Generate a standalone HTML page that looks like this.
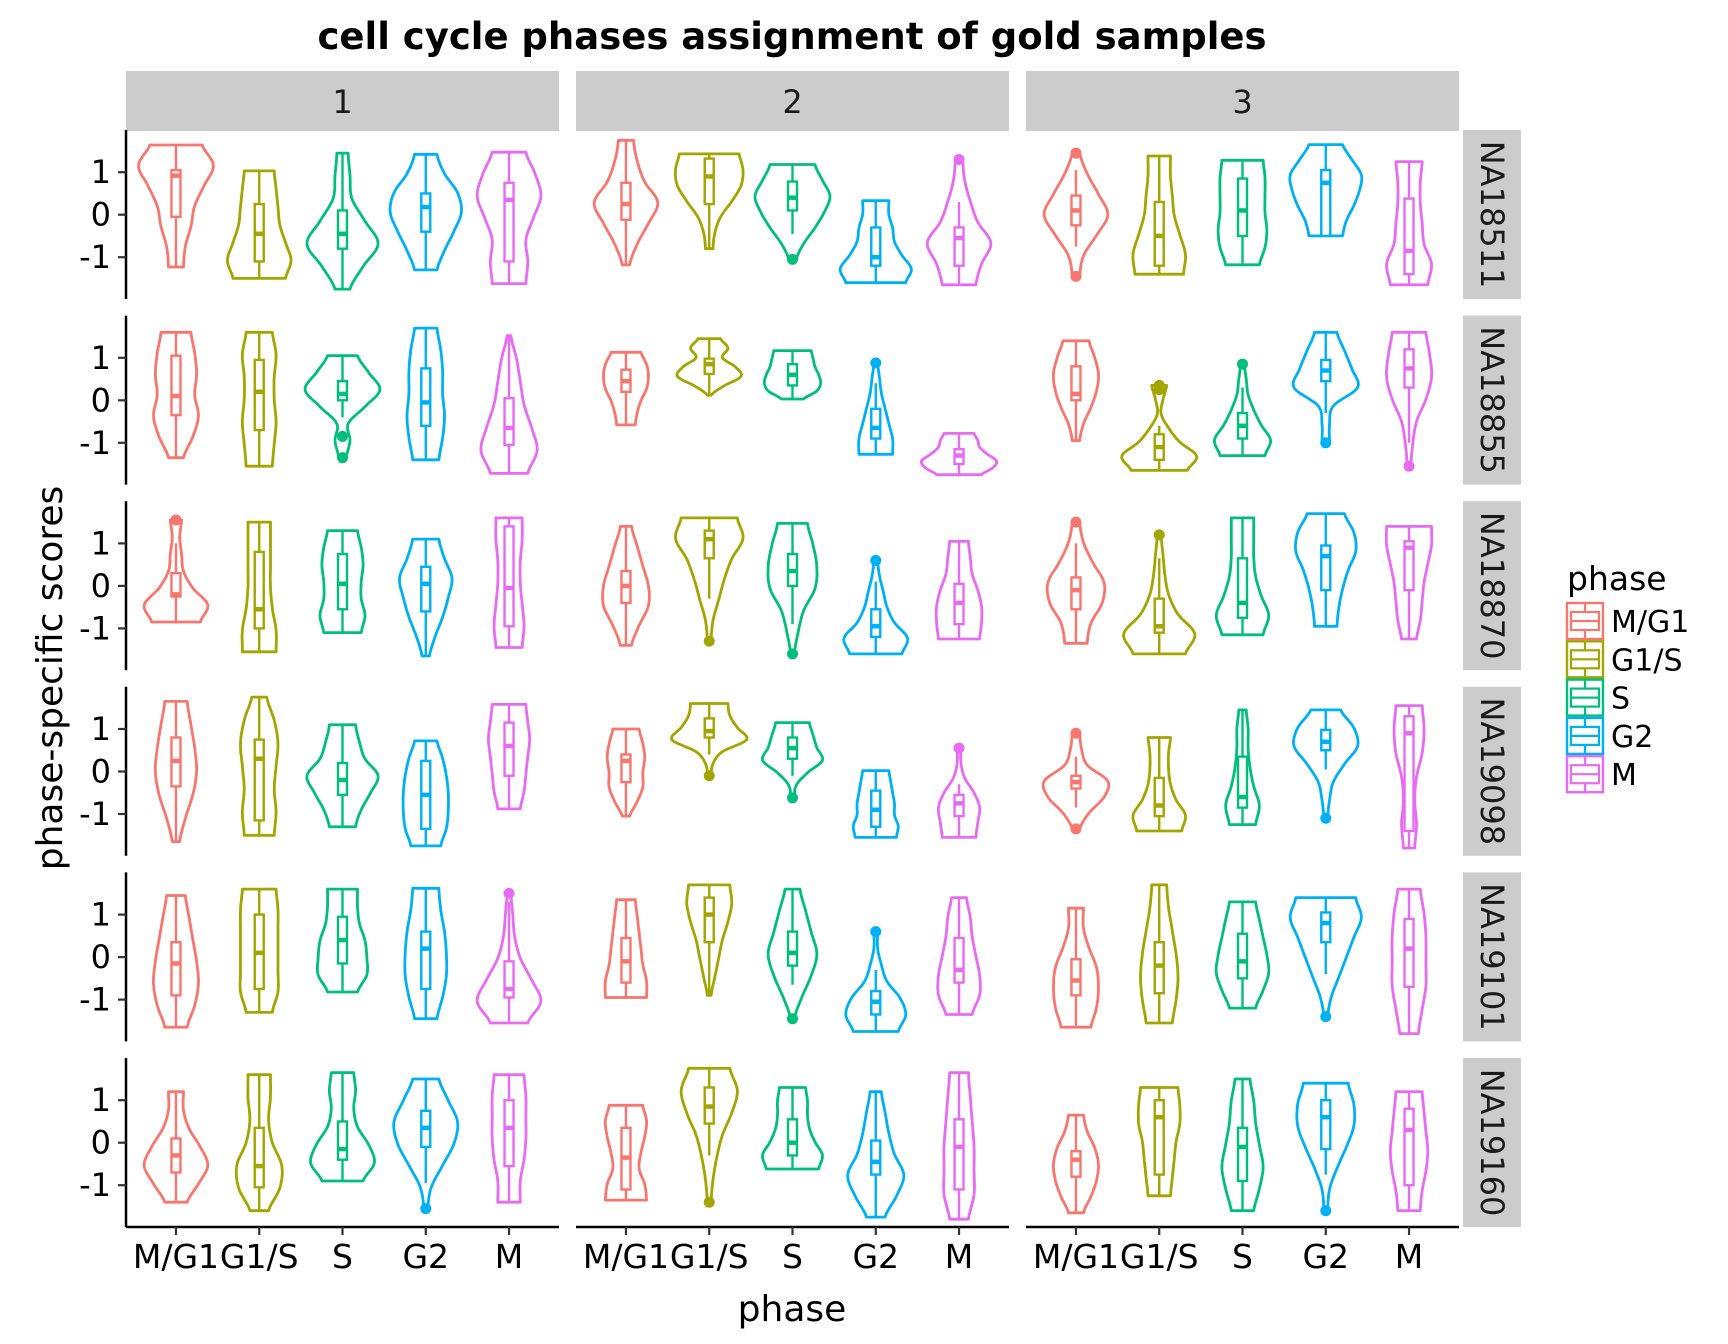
<!DOCTYPE html>
<html><head><meta charset="utf-8"><title>cell cycle phases assignment of gold samples</title>
<style>html,body{margin:0;padding:0;background:#fff;}svg{display:block;font-family:"DejaVu Sans","Liberation Sans",sans-serif;}</style>
</head><body>
<svg id="chart" width="1728" height="1344" viewBox="0 0 1728 1344" xmlns="http://www.w3.org/2000/svg">
<text x="792" y="49" text-anchor="middle" font-size="37" font-weight="bold">cell cycle phases assignment of gold samples</text>
<text x="792" y="1321" text-anchor="middle" font-size="36">phase</text>
<text transform="translate(62,678) rotate(-90)" text-anchor="middle" font-size="36">phase-specific scores</text>
<g id="panels"></g>
<g id="legend"></g>
</svg>
<script>
const phases = ["M/G1","G1/S","S","G2","M"];
const colors = ["#F8766D","#A3A500","#00BF7D","#00B0F6","#E76BF3"];
const columnsLabels = ["1","2","3"];
const samples = ["NA18511","NA18855","NA18870","NA19098","NA19101","NA19160"];
const yTicks = [1,0,-1];
const yTickLabels = ["1","0","-1"];
// each violin: [lo, hi, q1, median, q3, whiskerLo, whiskerHi, densityProfile(bottom->top), outliers]
const rowNA18511 = [
 [[-1.23,1.64,-0.05,0.92,1.05,-1.23,1.64,[0.2,0.25,0.4,0.5,0.75,1.0,0.7],[]],
  [-1.5,1.03,-1.1,-0.45,0.25,-1.5,1.03,[0.7,0.85,0.7,0.55,0.5,0.45,0.4],[]],
  [-1.75,1.45,-0.8,-0.45,0.1,-1.75,1.45,[0.2,0.55,0.95,0.6,0.25,0.2,0.15],[]],
  [-1.3,1.42,-0.4,0.18,0.5,-1.3,1.42,[0.3,0.5,0.75,0.95,0.85,0.5,0.3],[]],
  [-1.62,1.47,-1.1,0.35,0.75,-1.62,1.47,[0.45,0.5,0.45,0.65,0.85,0.7,0.45],[]]],
 [[-1.18,1.75,-0.12,0.25,0.75,-1.18,1.75,[0.1,0.3,0.6,0.85,0.5,0.3,0.2],[]],
  [-0.8,1.43,0.25,0.9,1.32,-0.8,1.43,[0.1,0.15,0.3,0.6,0.85,0.9,0.8],[]],
  [-1.05,1.18,0.1,0.4,0.78,-0.45,1.18,[0.1,0.3,0.6,0.85,1.0,0.8,0.6],[-1.05]],
  [-1.6,0.33,-1.2,-1.0,-0.3,-1.6,0.33,[0.8,0.95,0.7,0.5,0.45,0.35,0.35],[]],
  [-1.65,1.3,-1.2,-0.55,-0.3,-1.65,0.3,[0.45,0.6,0.85,0.5,0.3,0.15,0.1],[1.3]]],
 [[-1.45,1.45,-0.25,0.1,0.45,-0.75,1.05,[0.1,0.2,0.55,0.85,0.6,0.3,0.1],[-1.45,1.45]],
  [-1.4,1.38,-1.2,-0.5,0.3,-1.4,1.38,[0.65,0.7,0.55,0.4,0.35,0.3,0.3],[]],
  [-1.18,1.28,-0.5,0.1,0.85,-1.18,1.28,[0.45,0.6,0.65,0.6,0.6,0.6,0.55],[]],
  [-0.5,1.65,-0.5,0.75,1.05,-0.5,1.65,[0.45,0.55,0.75,0.9,0.95,0.7,0.45],[]],
  [-1.65,1.25,-1.4,-0.85,0.38,-1.65,1.25,[0.5,0.6,0.4,0.35,0.3,0.3,0.35],[]]]];
const rowNA18855 = [
 [[-1.35,1.6,-0.35,0.1,1.05,-1.35,1.6,[0.2,0.45,0.6,0.5,0.55,0.5,0.4],[]],
  [-1.55,1.6,-0.7,0.2,0.95,-1.55,1.6,[0.35,0.4,0.45,0.4,0.4,0.45,0.35],[]],
  [-1.35,1.05,0.0,0.15,0.45,-0.4,1.05,[0.1,0.2,0.15,0.6,1.0,0.7,0.4],[-0.85,-1.35]],
  [-1.4,1.7,-0.6,-0.05,0.75,-1.4,1.7,[0.35,0.45,0.5,0.45,0.45,0.4,0.3],[]],
  [-1.72,1.52,-1.05,-0.65,0.05,-1.72,1.52,[0.5,0.75,0.6,0.4,0.3,0.2,0.05],[]]],
 [[-0.58,1.13,0.2,0.45,0.72,-0.58,1.13,[0.25,0.3,0.4,0.55,0.6,0.55,0.4],[]],
  [0.12,1.45,0.62,0.85,0.98,0.12,1.45,[0.05,0.4,0.85,0.7,0.35,0.5,0.3],[]],
  [0.03,1.17,0.35,0.6,0.85,0.03,1.17,[0.3,0.65,0.75,0.7,0.6,0.55,0.5],[]],
  [-1.27,0.88,-0.9,-0.65,-0.2,-1.27,0.4,[0.45,0.45,0.35,0.25,0.15,0.1,0.05],[0.88]],
  [-1.75,-0.78,-1.5,-1.3,-1.15,-1.75,-0.78,[0.6,0.9,1.0,0.75,0.55,0.5,0.4],[]]],
 [[-0.95,1.4,0.0,0.15,0.8,-0.95,1.4,[0.1,0.2,0.4,0.55,0.6,0.5,0.35],[]],
  [-1.65,0.35,-1.4,-1.1,-0.8,-1.65,-0.6,[0.75,1.0,0.55,0.25,0.05,0.1,0.2],[0.25,0.3,0.35]],
  [-1.3,0.85,-0.9,-0.6,-0.3,-1.3,0.3,[0.6,0.75,0.5,0.3,0.15,0.1,0.05],[0.85]],
  [-1.0,1.6,0.45,0.7,0.95,-0.3,1.6,[0.1,0.1,0.2,0.85,0.7,0.5,0.3],[-1.0]],
  [-1.55,1.6,0.3,0.75,1.2,-1.0,1.6,[0.05,0.1,0.2,0.45,0.6,0.55,0.45],[-1.55]]]];
const rowNA18870 = [
 [[-0.85,1.55,-0.25,-0.2,0.3,-0.85,1.0,[0.65,0.85,0.45,0.2,0.15,0.1,0.15],[1.55]],
  [-1.55,1.5,-1.0,-0.55,0.8,-1.55,1.5,[0.45,0.45,0.35,0.3,0.3,0.3,0.3],[]],
  [-1.1,1.3,-0.55,0.05,0.75,-1.1,1.3,[0.5,0.6,0.5,0.5,0.55,0.5,0.4],[]],
  [-1.65,1.1,-0.6,0.05,0.45,-1.65,1.1,[0.1,0.25,0.45,0.6,0.7,0.5,0.35],[]],
  [-1.45,1.6,-0.95,-0.05,1.4,-1.45,1.6,[0.35,0.4,0.35,0.3,0.3,0.35,0.35],[]]],
 [[-1.4,1.4,-0.4,0.0,0.35,-1.4,1.4,[0.15,0.35,0.6,0.6,0.45,0.3,0.15],[]],
  [-1.3,1.6,0.65,1.1,1.3,-0.3,1.6,[0.05,0.1,0.25,0.4,0.6,0.9,0.75],[-1.3]],
  [-1.6,1.47,0.0,0.35,0.75,-0.9,1.47,[0.05,0.15,0.3,0.6,0.65,0.55,0.4],[-1.6]],
  [-1.6,0.6,-1.2,-0.95,-0.55,-1.6,0.1,[0.7,0.85,0.5,0.3,0.2,0.1,0.05],[0.6]],
  [-1.25,1.05,-0.9,-0.4,0.05,-1.25,1.05,[0.55,0.6,0.6,0.5,0.35,0.3,0.25],[]]],
 [[-1.35,1.5,-0.55,-0.1,0.2,-1.35,1.0,[0.3,0.4,0.7,0.75,0.45,0.2,0.1],[1.5]],
  [-1.6,1.2,-1.1,-0.95,-0.3,-1.6,0.65,[0.7,0.95,0.5,0.25,0.15,0.1,0.05],[1.2]],
  [-1.15,1.6,-0.75,-0.4,0.65,-1.15,1.6,[0.55,0.7,0.5,0.35,0.3,0.3,0.3],[]],
  [-0.95,1.7,-0.1,0.7,0.95,-0.95,1.7,[0.3,0.35,0.45,0.6,0.8,0.75,0.5],[]],
  [-1.25,1.4,-0.1,0.9,1.05,-1.25,1.4,[0.2,0.3,0.35,0.4,0.5,0.6,0.6],[]]]];
const rowNA19098 = [
 [[-1.65,1.65,-0.35,0.25,0.8,-1.65,1.65,[0.1,0.25,0.45,0.55,0.5,0.4,0.3],[]],
  [-1.5,1.75,-1.15,0.3,0.75,-1.5,1.75,[0.4,0.45,0.4,0.45,0.5,0.4,0.2],[]],
  [-1.3,1.1,-0.55,-0.2,0.2,-1.3,1.1,[0.35,0.5,0.75,0.95,0.6,0.45,0.35],[]],
  [-1.75,0.72,-1.35,-0.55,0.25,-1.75,0.72,[0.4,0.55,0.6,0.6,0.55,0.45,0.3],[]],
  [-0.88,1.58,-0.1,0.6,1.15,-0.88,1.58,[0.3,0.4,0.45,0.5,0.55,0.5,0.45],[]]],
 [[-1.05,1.0,-0.25,0.25,0.4,-1.05,1.0,[0.1,0.3,0.45,0.45,0.5,0.45,0.35],[]],
  [-0.1,1.6,0.8,0.95,1.25,0.4,1.6,[0.05,0.1,0.35,1.0,0.75,0.55,0.5],[-0.1]],
  [-0.62,1.15,0.3,0.55,0.8,-0.1,1.15,[0.05,0.1,0.4,0.8,0.65,0.55,0.45],[-0.62]],
  [-1.55,0.02,-1.3,-0.9,-0.45,-1.55,0.02,[0.55,0.6,0.5,0.5,0.45,0.4,0.35],[]],
  [-1.55,0.55,-1.05,-0.75,-0.55,-1.55,-0.3,[0.45,0.5,0.55,0.4,0.15,0.05,0.05],[0.55]]],
 [[-1.35,0.9,-0.4,-0.25,-0.1,-0.85,0.35,[0.1,0.35,0.75,0.85,0.3,0.15,0.1],[-1.35,0.9]],
  [-1.4,0.8,-1.05,-0.8,-0.15,-1.4,0.8,[0.6,0.7,0.45,0.3,0.25,0.25,0.3],[]],
  [-1.25,1.45,-0.85,-0.6,0.35,-1.25,1.45,[0.35,0.45,0.3,0.2,0.15,0.15,0.1],[]],
  [-1.1,1.45,0.5,0.7,0.98,0.05,1.45,[0.05,0.1,0.2,0.5,0.85,0.75,0.4],[-1.1]],
  [-1.8,1.55,-1.4,0.9,1.3,-1.8,1.55,[0.15,0.2,0.15,0.2,0.35,0.4,0.35],[]]]];
const rowNA19101 = [
 [[-1.65,1.45,-0.9,-0.15,0.35,-1.65,1.45,[0.3,0.5,0.6,0.55,0.45,0.35,0.25],[]],
  [-1.3,1.6,-0.75,0.1,1.0,-1.3,1.6,[0.35,0.5,0.5,0.5,0.5,0.5,0.45],[]],
  [-0.82,1.6,-0.15,0.4,0.95,-0.82,1.6,[0.4,0.65,0.65,0.6,0.45,0.4,0.4],[]],
  [-1.45,1.62,-0.75,0.2,0.6,-1.45,1.62,[0.3,0.45,0.55,0.55,0.5,0.4,0.35],[]],
  [-1.55,1.5,-0.95,-0.75,-0.1,-1.55,1.3,[0.5,0.85,0.6,0.3,0.15,0.1,0.05],[1.5]]],
 [[-0.95,1.35,-0.6,-0.1,0.45,-0.95,1.35,[0.55,0.55,0.45,0.4,0.35,0.3,0.25],[]],
  [-0.9,1.7,0.35,1.0,1.4,-0.9,1.7,[0.05,0.15,0.25,0.35,0.5,0.6,0.55],[]],
  [-1.45,1.6,-0.2,0.1,0.6,-0.65,1.6,[0.05,0.25,0.5,0.65,0.5,0.35,0.2],[-1.45]],
  [-1.75,0.6,-1.35,-1.05,-0.8,-1.75,-0.3,[0.6,0.8,0.65,0.3,0.15,0.05,0.05],[0.6]],
  [-1.35,1.4,-0.6,-0.3,0.45,-1.35,1.4,[0.35,0.55,0.55,0.45,0.35,0.3,0.2],[]]],
 [[-1.65,1.15,-0.9,-0.55,-0.05,-1.65,1.15,[0.4,0.55,0.6,0.55,0.35,0.2,0.2],[]],
  [-1.55,1.7,-0.85,-0.2,0.35,-1.55,1.7,[0.35,0.45,0.5,0.45,0.35,0.25,0.2],[]],
  [-1.2,1.3,-0.5,-0.1,0.55,-1.2,1.3,[0.35,0.55,0.7,0.65,0.55,0.45,0.35],[]],
  [-1.4,1.4,0.35,0.8,1.05,-0.4,1.4,[0.05,0.15,0.35,0.55,0.75,0.95,0.8],[-1.4]],
  [-1.8,1.6,-0.7,0.2,0.9,-1.8,1.6,[0.25,0.35,0.45,0.45,0.45,0.4,0.3],[]]]];
const rowNA19160 = [
 [[-1.4,1.2,-0.7,-0.3,0.1,-1.4,1.2,[0.3,0.6,0.85,0.65,0.35,0.2,0.2],[]],
  [-1.6,1.6,-1.05,-0.55,0.35,-1.6,1.6,[0.25,0.55,0.6,0.35,0.25,0.3,0.3],[]],
  [-0.9,1.65,-0.4,-0.15,0.5,-0.9,1.65,[0.55,0.85,0.7,0.4,0.3,0.35,0.3],[]],
  [-1.55,1.5,-0.1,0.35,0.75,-0.95,1.5,[0.05,0.15,0.45,0.75,0.85,0.6,0.35],[-1.55]],
  [-1.4,1.6,-0.55,0.35,1.0,-1.4,1.6,[0.3,0.3,0.4,0.45,0.45,0.45,0.4],[]]],
 [[-1.35,0.88,-1.1,-0.35,0.35,-1.35,0.88,[0.55,0.5,0.35,0.4,0.5,0.55,0.45],[]],
  [-1.4,1.75,0.45,0.85,1.3,-0.3,1.75,[0.05,0.1,0.2,0.35,0.6,0.75,0.55],[-1.4]],
  [-0.62,1.3,-0.3,0.0,0.55,-0.62,1.3,[0.7,0.8,0.6,0.45,0.4,0.4,0.35],[]],
  [-1.75,1.2,-0.75,-0.45,0.05,-1.75,1.2,[0.25,0.55,0.75,0.5,0.35,0.25,0.15],[]],
  [-1.8,1.65,-1.1,-0.1,0.55,-1.8,1.65,[0.25,0.4,0.4,0.4,0.35,0.3,0.25],[]]],
 [[-1.65,0.65,-0.8,-0.4,-0.2,-1.65,0.65,[0.2,0.4,0.55,0.6,0.5,0.3,0.2],[]],
  [-1.25,1.3,-0.75,0.6,1.0,-1.25,1.3,[0.3,0.35,0.4,0.45,0.55,0.55,0.5],[]],
  [-1.6,1.5,-0.9,-0.1,0.35,-1.6,1.5,[0.3,0.45,0.55,0.45,0.35,0.3,0.2],[]],
  [-1.6,1.4,-0.15,0.6,1.0,-0.75,1.4,[0.05,0.1,0.3,0.55,0.75,0.75,0.6],[-1.6]],
  [-1.6,1.2,-1.0,0.3,0.8,-1.6,1.2,[0.3,0.35,0.45,0.5,0.45,0.4,0.35],[]]]];
const rowsData = [rowNA18511,rowNA18855,rowNA18870,rowNA19098,rowNA19101,rowNA19160];

const NS="http://www.w3.org/2000/svg";
const panelsG=document.getElementById('panels');
function mk(tag,attrs,parent){const e=document.createElementNS(NS,tag);for(const k in attrs)e.setAttribute(k,attrs[k]);(parent||panelsG).appendChild(e);return e;}
const PL=126, PW=433, PGAP=17, BAND=PW/5.2;
const PT=130, PH=169, RPITCH=185.6, ZOFF=84.7, UNIT=42.5, HALF=0.45*BAND;
function xScale(col,i){return PL+col*(PW+PGAP)+(0.6+i)*BAND;}
function yScale(row,v){return PT+row*RPITCH+ZOFF-v*UNIT;}
function interp(p,t){const n=p.length-1;const f=Math.max(0,Math.min(n,t*n));const i=Math.min(n-1,Math.floor(f));const u=f-i;
 const p0=p[Math.max(0,i-1)],p1=p[i],p2=p[i+1],p3=p[Math.min(n,i+2)];
 const v=0.5*((2*p1)+(-p0+p2)*u+(2*p0-5*p1+4*p2-p3)*u*u+(-p0+3*p1-3*p2+p3)*u*u*u);return Math.max(0.02,v);}

columnsLabels.forEach((lab,c)=>{
 const x0=PL+c*(PW+PGAP);
 const s=mk('rect',{x:x0,y:71,width:PW,height:60,fill:'#cccccc'});
 
 
 const t=mk('text',{x:x0+PW/2,y:113,'text-anchor':'middle','font-size':32,fill:'#1a1a1a'});t.textContent=lab;
 
 
 const ax=mk('line',{x1:x0,x2:x0+PW,y1:1227,y2:1227,stroke:'#000','stroke-width':2.5});
 
 
 phases.forEach((p,i)=>{
  const x=xScale(c,i);
  mk('line',{x1:x,x2:x,y1:1227,y2:1235,stroke:'#333','stroke-width':2.2});
  const tl=mk('text',{x:x,y:1268,'text-anchor':'middle','font-size':33,fill:'#000'});tl.textContent=p;
  
  
 });
});
samples.forEach((smp,r)=>{
 const top=PT+r*RPITCH;
 const st=mk('rect',{x:1463,y:top,width:58,height:PH,fill:'#cccccc'});
 
 
 const tt=mk('text',{transform:`translate(1481,${top+PH/2}) rotate(90)`,'text-anchor':'middle','font-size':32,fill:'#1a1a1a'});tt.textContent=smp;
 
 
 const ay=mk('line',{x1:PL,x2:PL,y1:top,y2:top+PH,stroke:'#000','stroke-width':2.5});
 
 
 yTicks.forEach((v,k)=>{
  const y=yScale(r,v);
  mk('line',{x1:PL-8,x2:PL,y1:y,y2:y,stroke:'#333','stroke-width':2.2});
  const yl=mk('text',{x:111,y:y+11,'text-anchor':'end','font-size':32,fill:'#000'});yl.textContent=yTickLabels[k];
  
  
 });
 rowsData[r].forEach((colData,c)=>{
  colData.forEach((d,i)=>{
   const [lo,hi,q1,med,q3,wlo,whi,prof,outs]=d;
   const col=colors[i], cx=xScale(c,i);
   const g=mk('g',{});
   
   
   const N=40, L=[], R=[];
   for(let k=0;k<=N;k++){const t=k/N;const v=lo+(hi-lo)*t;const w=interp(prof,t)*HALF;const y=yScale(r,v);L.push([cx-w,y]);R.push([cx+w,y]);}
   let dstr='M'+L.map(p=>p[0].toFixed(1)+','+p[1].toFixed(1)).join(' L');
   dstr+=' L'+R.reverse().map(p=>p[0].toFixed(1)+','+p[1].toFixed(1)).join(' L')+' Z';
   mk('path',{d:dstr,fill:'none',stroke:col,'stroke-width':2.8,'stroke-linejoin':'round'},g);
   mk('line',{x1:cx,x2:cx,y1:yScale(r,wlo),y2:yScale(r,whi),stroke:col,'stroke-width':2.4},g);
   mk('rect',{x:cx-4.5,y:yScale(r,q3),width:9,height:yScale(r,q1)-yScale(r,q3),fill:'#fff',stroke:col,'stroke-width':2.4},g);
   mk('line',{x1:cx-4.5,x2:cx+4.5,y1:yScale(r,med),y2:yScale(r,med),stroke:col,'stroke-width':4.5},g);
   outs.forEach(o=>{mk('circle',{cx:cx,cy:yScale(r,o),r:5.5,fill:col},g);});
  });
 });
});
const lg=document.getElementById('legend');
const lt=mk('text',{x:1567,y:590,'font-size':33,fill:'#000'},lg);lt.textContent='phase';


phases.forEach((p,i)=>{
 const y=603+38.3*i, col=colors[i];
 const g=mk('g',{},lg);
 
 
 mk('rect',{x:1567,y:y,width:36,height:36,fill:'#fff',stroke:col,'stroke-width':2.4},g);
 mk('rect',{x:1571,y:y+9,width:28,height:18,fill:'none',stroke:col,'stroke-width':2.2},g);
 mk('line',{x1:1571,x2:1599,y1:y+18,y2:y+18,stroke:col,'stroke-width':2.2},g);
 mk('line',{x1:1585,x2:1585,y1:y+1,y2:y+9,stroke:col,'stroke-width':2.2},g);
 mk('line',{x1:1585,x2:1585,y1:y+27,y2:y+35,stroke:col,'stroke-width':2.2},g);
 const t=mk('text',{x:1611,y:y+29,'font-size':30,fill:'#000'},g);t.textContent=p;
});
</script>
</body></html>
